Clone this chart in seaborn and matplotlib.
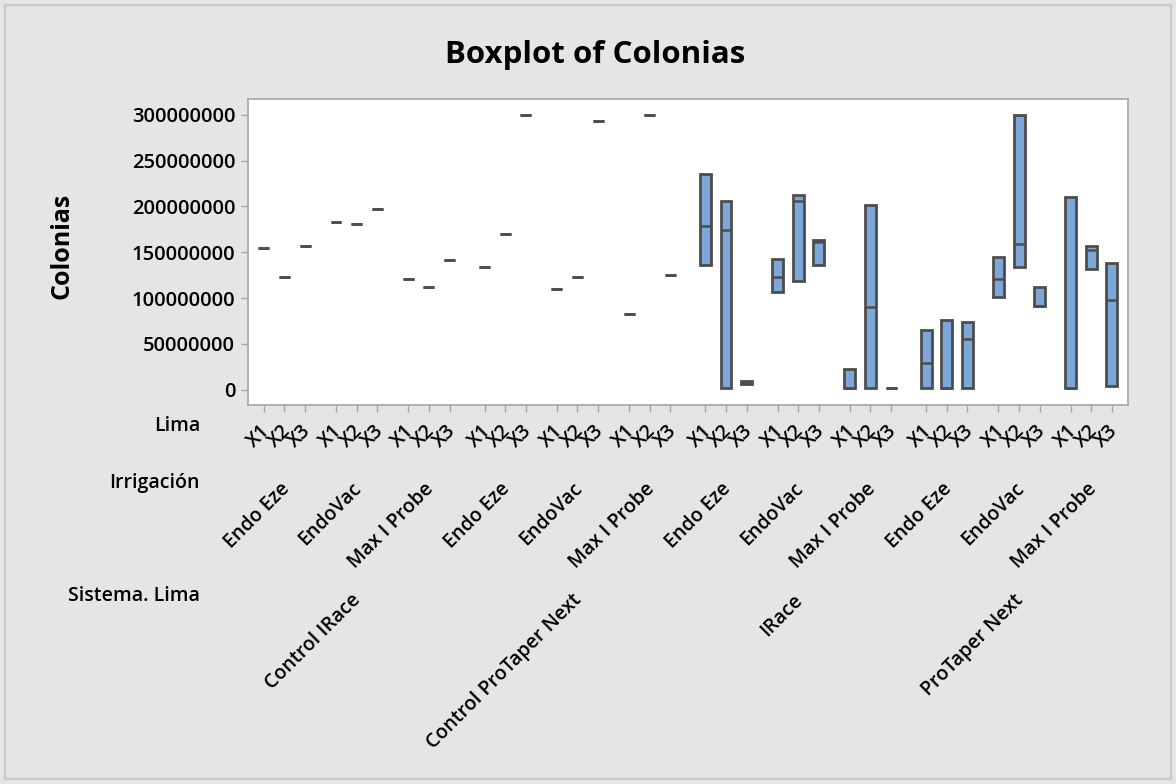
import matplotlib
matplotlib.use("Agg")
import numpy as np
import pandas as pd
import seaborn as sns
import matplotlib.pyplot as plt
from matplotlib.patches import Rectangle
from matplotlib.ticker import FixedLocator, FuncFormatter

# ---------------- data ----------------
sistemas = ["Control IRace", "Control ProTaper Next", "IRace", "ProTaper Next"]
irrigaciones = ["Endo Eze", "EndoVac", "Max I Probe"]
limas = ["X1", "X2", "X3"]

# order: sistema -> irrigacion -> lima (values in millions of colonies)
q1_m = [154.4, 122.8, 156.6, 183.5, 181.3, 197.0, 120.9, 111.8, 141.3,
        134.4, 170.1, 300.0, 109.6, 122.8, 293.1, 82.7, 300.0, 125.3,
        136.6, 1.5, 6.5, 107.0, 118.7, 136.2, 1.5, 1.5, 2.2,
        1.5, 1.5, 1.5, 100.9, 134.0, 91.7, 1.5, 132.2, 4.4]
median_m = [154.4, 122.8, 156.6, 183.5, 181.3, 197.0, 120.9, 111.8, 141.3,
            134.4, 170.1, 300.0, 109.6, 122.8, 293.1, 82.7, 300.0, 125.3,
            178.8, 174.8, 8.0, 123.4, 206.1, 161.3, 1.5, 90.0, 2.2,
            29.5, 1.5, 55.7, 121.2, 158.8, 91.7, 1.5, 152.6, 98.3]
q3_m = [154.4, 122.8, 156.6, 183.5, 181.3, 197.0, 120.9, 111.8, 141.3,
        134.4, 170.1, 300.0, 109.6, 122.8, 293.1, 82.7, 300.0, 125.3,
        235.3, 206.1, 9.0, 143.1, 212.6, 163.2, 22.6, 201.7, 2.2,
        65.2, 76.1, 73.9, 145.3, 300.0, 111.8, 210.1, 157.0, 138.4]
y_ticks = [0, 50000000, 100000000, 150000000, 200000000, 250000000, 300000000]

# ---------------- layout helpers ----------------
SYS_STEP, IRR_STEP = 10.7, 3.5
rows = []
positions, pos_labels = [], []
k = 0
for s_i, s in enumerate(sistemas):
    for i_i, irr in enumerate(irrigaciones):
        for l_i, lim in enumerate(limas):
            pos = s_i * SYS_STEP + i_i * IRR_STEP + l_i
            positions.append(pos)
            pos_labels.append(lim)
            a, m, b = q1_m[k] * 1e6, median_m[k] * 1e6, q3_m[k] * 1e6
            # five values whose quartiles are exactly (a, m, b)
            for v in (a, a, m, b, b):
                rows.append({"pos": pos, "Colonias": v})
            k += 1
df = pd.DataFrame(rows)

sns.set_style("white")
plt.rcParams["font.family"] = ["Open Sans", "DejaVu Sans"]
plt.rcParams["font.weight"] = "semibold"

W, H = 1176, 784
fig = plt.figure(figsize=(W / 100, H / 100), dpi=100)
bg = "#E5E5E5"
fig.patch.set_facecolor(bg)

left_px, right_px, top_px, bottom_px = 247.7, 1128.0, 99.0, 405.0
ax = fig.add_axes([left_px / W, 1 - bottom_px / H, (right_px - left_px) / W,
                   (bottom_px - top_px) / H])
ax.set_facecolor("white")

edge = "#4D4D4D"
sns.boxplot(data=df, x="pos", y="Colonias", native_scale=True, width=0.53,
            color="#7BA7D9", saturation=1, linecolor=edge, linewidth=2.0,
            showcaps=False, whis=1.5, fliersize=0, ax=ax,
            medianprops={"color": edge, "linewidth": 1.8})

ax.set_xlim(min(positions) - 0.78, max(positions) + 0.78)
ax.set_ylim(-16.7e6, 317.3e6)
ax.yaxis.set_major_locator(FixedLocator(y_ticks))
ax.yaxis.set_major_formatter(FuncFormatter(lambda v, p: f"{v:.0f}"))
ax.set_xticks(positions)
ax.set_xticklabels([])
ax.set_xlabel("")
ax.set_ylabel("")
for sp in ax.spines.values():
    sp.set_visible(True)
    sp.set_color("#A6A6A6")
    sp.set_linewidth(1.2)
ax.tick_params(axis="both", direction="out", length=5, width=1, color="#A6A6A6",
               labelsize=14.5, labelcolor="black", bottom=True, left=True, pad=4)

def ay(py):
    return (bottom_px - py) / (bottom_px - top_px)

tr = ax.get_xaxis_transform()
txt_kw = dict(ha="right", va="center", rotation=45, rotation_mode="anchor",
              fontsize=14, fontweight="semibold", color="black", transform=tr,
              clip_on=False)
# Lima row
for p, lab in zip(positions, pos_labels):
    ax.text(p + 0.15, ay(428), lab, **txt_kw)
# Irrigacion row
for s_i in range(len(sistemas)):
    for i_i, irr in enumerate(irrigaciones):
        c = s_i * SYS_STEP + i_i * IRR_STEP + 1
        ax.text(c + 0.1, ay(486), irr, **txt_kw)
# Sistema row
for s_i, s in enumerate(sistemas):
    c = s_i * SYS_STEP + IRR_STEP + 1
    ax.text(c + 0.05, ay(597), s, **txt_kw)

# row titles
for lab, py in (("Lima", 426), ("Irrigación", 483), ("Sistema. Lima", 596)):
    fig.text(200 / W, 1 - py / H, lab, ha="right", va="center", fontsize=14,
             fontweight="semibold", color="black")

fig.text(595 / W, 1 - 55 / H, "Boxplot of Colonias", ha="center", va="center",
         fontsize=22.5, fontweight="bold", color="black")
fig.text(62 / W, 1 - 246 / H, "Colonias", ha="center", va="center", rotation=90,
         fontsize=18, fontweight="bold", color="black")

fig.add_artist(Rectangle((5 / W, 5 / H), 1166 / W, 774 / H, transform=fig.transFigure,
                         fill=False, edgecolor="#C8C8C8", linewidth=1.5))

fig.savefig("out.png", dpi=100, facecolor=bg)
